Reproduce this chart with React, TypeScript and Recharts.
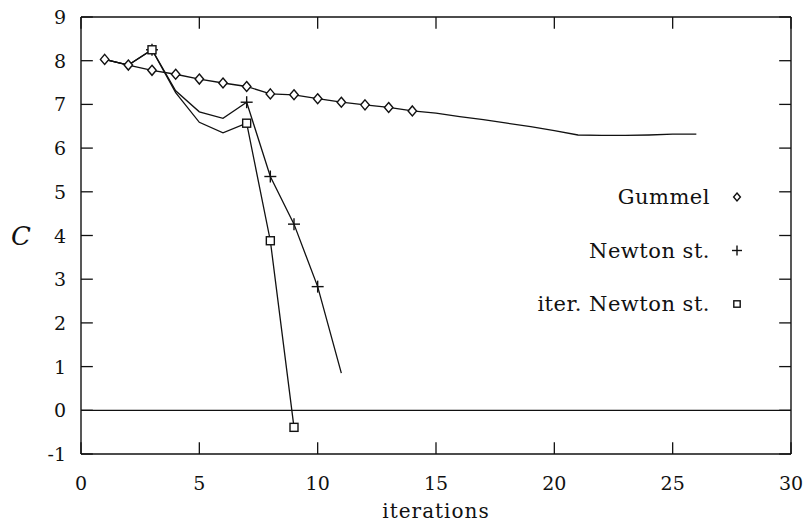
import React from "react";
import { LineChart, Line, XAxis, YAxis, ReferenceLine } from "recharts";

// iteration numbers and the quantity C for each solver
const gummelIter = [1, 2, 3, 4, 5, 6, 7, 8, 9, 10, 11, 12, 13, 14, 15, 16, 17, 18, 19, 20, 21, 22, 23, 24, 25, 26];
const gummelC = [8.03, 7.9, 7.78, 7.69, 7.58, 7.49, 7.41, 7.24, 7.22, 7.13, 7.05, 6.99, 6.93, 6.85, 6.8, 6.72, 6.65, 6.57, 6.49, 6.4, 6.3, 6.29, 6.29, 6.3, 6.32, 6.32];
const gummelMarked = [1, 2, 3, 4, 5, 6, 7, 8, 9, 10, 11, 12, 13, 14];

const newtonIter = [1, 2, 3, 4, 5, 6, 7, 8, 9, 10, 11];
const newtonC = [8.03, 7.9, 8.25, 7.31, 6.83, 6.68, 7.05, 5.35, 4.26, 2.83, 0.85];
const newtonMarked = [3, 7, 8, 9, 10];

const iterNewtonIter = [1, 2, 3, 4, 5, 6, 7, 8, 9];
const iterNewtonC = [8.03, 7.9, 8.25, 7.27, 6.59, 6.35, 6.57, 3.88, -0.39];
const iterNewtonMarked = [3, 7, 8, 9];

const xTicks = [0, 5, 10, 15, 20, 25, 30];
const yTicks = [-1, 0, 1, 2, 3, 4, 5, 6, 7, 8, 9];
const seriesNames = ["Gummel", "Newton st.", "iter. Newton st."];

const INK = "#111";
const FONT = "DejaVu Serif, serif";
// inward tick length, in data units (about 12px each way)
const TX = 0.5;
const TY = 0.27;

const toRows = (xs: number[], ys: number[]) => xs.map((x, i) => ({ x, c: ys[i] }));
const gummelData = toRows(gummelIter, gummelC);
const newtonData = toRows(newtonIter, newtonC);
const iterNewtonData = toRows(iterNewtonIter, iterNewtonC);

type Shape = "diamond" | "plus" | "square";
const shapes: Shape[] = ["diamond", "plus", "square"];

function Marker({ shape, cx, cy, s }: { shape: Shape; cx: number; cy: number; s: number }) {
  if (shape === "diamond")
    return (
      <polygon points={`${cx},${cy - s} ${cx + s * 0.85},${cy} ${cx},${cy + s} ${cx - s * 0.85},${cy}`}
        fill="#fff" stroke={INK} strokeWidth={1.4} />
    );
  if (shape === "plus")
    return (
      <g stroke={INK} strokeWidth={1.4}>
        <line x1={cx - s} y1={cy} x2={cx + s} y2={cy} />
        <line x1={cx} y1={cy - s} x2={cx} y2={cy + s} />
      </g>
    );
  return <rect x={cx - s * 0.8} y={cy - s * 0.8} width={s * 1.6} height={s * 1.6} fill="#fff" stroke={INK} strokeWidth={1.4} />;
}

const dotFor = (shape: Shape, marked: number[]) => (p: any) => {
  const key = `${shape}-${p.index}`;
  if (!marked.includes(p.payload.x)) return <g key={key} />;
  return <g key={key}><Marker shape={shape} cx={p.cx} cy={p.cy} s={shape === "plus" ? 6 : 5} /></g>;
};

function BottomTick({ x, y, payload }: any) {
  return <text x={x} y={y + 36} textAnchor="middle" fontFamily={FONT} fontSize={19} fill={INK}>{payload.value}</text>;
}
function LeftTick({ x, y, payload }: any) {
  return <text x={x - 15} y={y + 7} textAnchor="end" fontFamily={FONT} fontSize={19} fill={INK}>{payload.value}</text>;
}

// y-axis title plus the legend, drawn inside the chart's svg
function SideLabels() {
  return (
    <g>
      <text x={21} y={245} textAnchor="middle" fontFamily={FONT} fontSize={26} fontStyle="italic" fill={INK}>C</text>
      {seriesNames.map((name, i) => {
        const cy = 197 + i * 53.5;
        return (
          <g key={name}>
            <text x={710} y={cy + 7} textAnchor="end" fontFamily={FONT} fontSize={21} letterSpacing={0.5} fill={INK}>{name}</text>
            <Marker shape={shapes[i]} cx={737} cy={cy} s={shapes[i] === "plus" ? 5 : 4} />
          </g>
        );
      })}
    </g>
  );
}

export default function App() {
  return (
    <div style={{ position: "absolute", left: 0, top: 0, width: 806, height: 525, background: "#fff" }}>
      <LineChart width={806} height={525} margin={{ top: 17, right: 15, bottom: 0, left: 0 }}>
        <XAxis type="number" dataKey="x" domain={[0, 30]} ticks={xTicks} orientation="bottom"
          height={71} tickSize={0} tickMargin={0} tickLine={false} axisLine={false} interval={0} tick={<BottomTick />}
          label={{ content: () => <text x={436} y={518} textAnchor="middle" fontFamily={FONT} fontSize={20} letterSpacing={1} fill={INK}>iterations</text> }} />
        <YAxis type="number" domain={[-1, 9]} ticks={yTicks} orientation="left"
          width={81} tickSize={0} tickMargin={0} tickLine={false} axisLine={false} interval={0} tick={<LeftTick />}
          label={{ content: () => <SideLabels /> }} />
        {/* frame */}
        <ReferenceLine y={9} stroke={INK} strokeWidth={1.4} />
        <ReferenceLine y={-1} stroke={INK} strokeWidth={1.4} />
        <ReferenceLine x={0} stroke={INK} strokeWidth={1.4} />
        <ReferenceLine x={30} stroke={INK} strokeWidth={1.4} />
        {/* inward ticks on all four sides */}
        {xTicks.map((v) => (
          <ReferenceLine key={`xb${v}`} segment={[{ x: v, y: -1 }, { x: v, y: -1 + TY }]} stroke={INK} strokeWidth={1.3} />
        ))}
        {xTicks.map((v) => (
          <ReferenceLine key={`xt${v}`} segment={[{ x: v, y: 9 }, { x: v, y: 9 - TY }]} stroke={INK} strokeWidth={1.3} />
        ))}
        {yTicks.map((v) => (
          <ReferenceLine key={`yl${v}`} segment={[{ x: 0, y: v }, { x: TX, y: v }]} stroke={INK} strokeWidth={1.3} />
        ))}
        {yTicks.map((v) => (
          <ReferenceLine key={`yr${v}`} segment={[{ x: 30 - TX, y: v }, { x: 30, y: v }]} stroke={INK} strokeWidth={1.3} />
        ))}
        <ReferenceLine y={0} stroke={INK} strokeWidth={1.3} />
        <Line data={gummelData} dataKey="c" name={seriesNames[0]} type="linear"
          stroke={INK} strokeWidth={1.3} dot={dotFor("diamond", gummelMarked)} isAnimationActive={false} />
        <Line data={newtonData} dataKey="c" name={seriesNames[1]} type="linear"
          stroke={INK} strokeWidth={1.3} dot={dotFor("plus", newtonMarked)} isAnimationActive={false} />
        <Line data={iterNewtonData} dataKey="c" name={seriesNames[2]} type="linear"
          stroke={INK} strokeWidth={1.3} dot={dotFor("square", iterNewtonMarked)} isAnimationActive={false} />
      </LineChart>
    </div>
  );
}
